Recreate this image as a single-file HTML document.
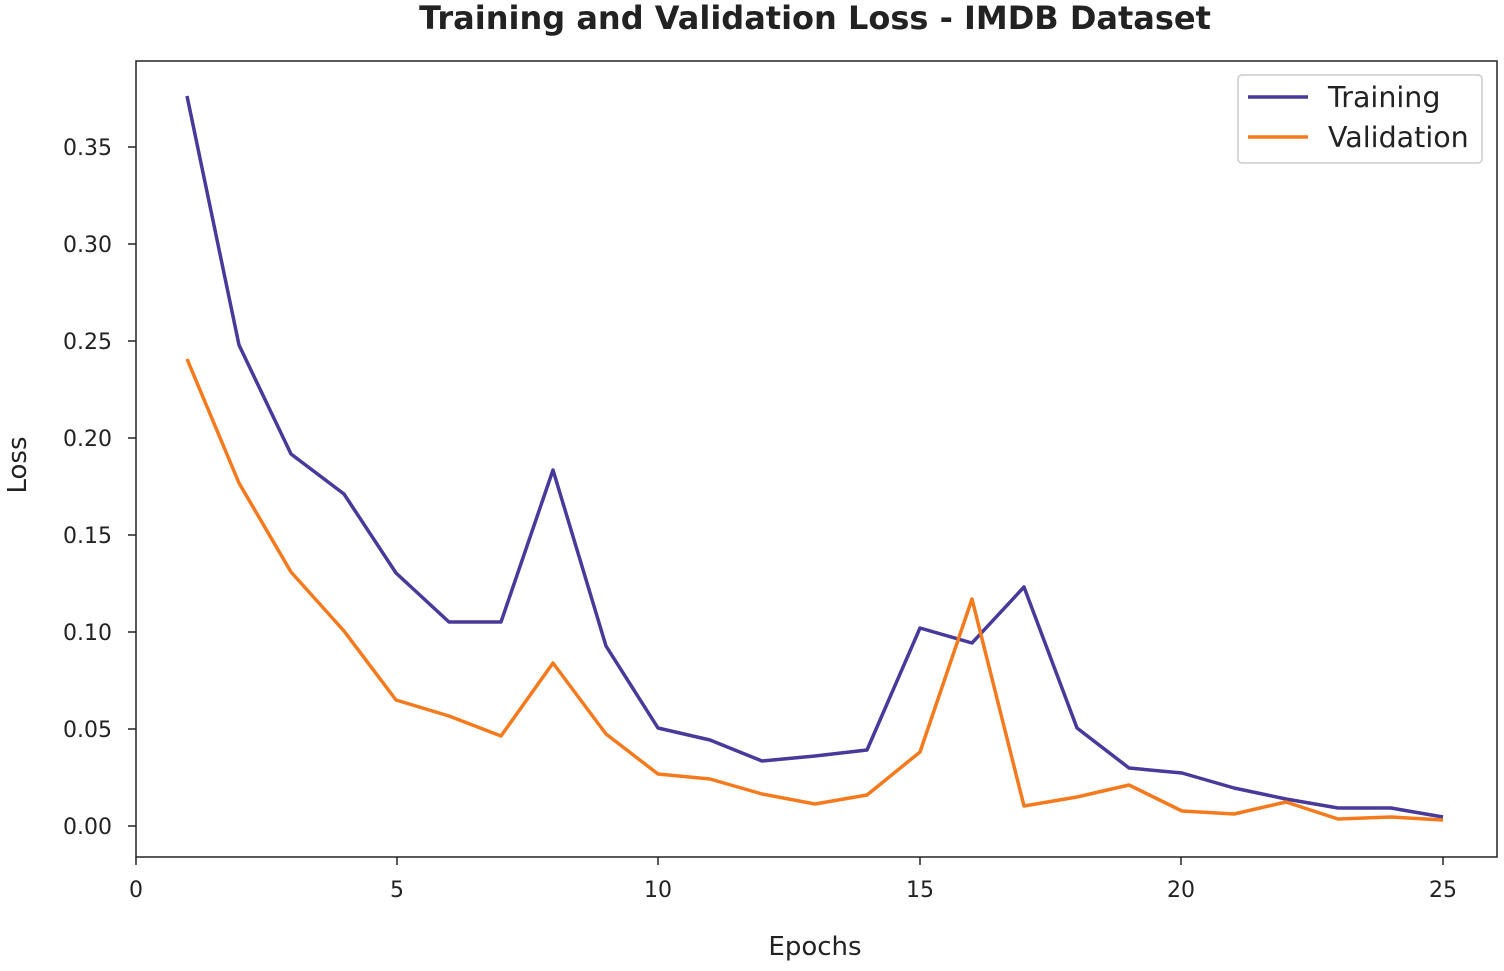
<!DOCTYPE html>
<html><head><style>
body{margin:0;background:#fff;}
svg text{font-family:"DejaVu Sans","Liberation Sans",sans-serif;fill:#222;}
</style></head><body>
<svg width="1504" height="966" xmlns="http://www.w3.org/2000/svg">
<rect width="1504" height="966" fill="#fff"/>
<text x="815" y="29" text-anchor="middle" font-size="32" font-weight="bold">Training and Validation Loss - IMDB Dataset</text>
<rect x="136" y="61" width="1361" height="796" fill="none" stroke="#222" stroke-width="1.5"/>
<g stroke="#222" stroke-width="1.5">
<line x1="136" y1="857" x2="136" y2="865"/><line x1="397" y1="857" x2="397" y2="865"/><line x1="658" y1="857" x2="658" y2="865"/><line x1="920" y1="857" x2="920" y2="865"/><line x1="1181" y1="857" x2="1181" y2="865"/><line x1="1443" y1="857" x2="1443" y2="865"/>
<line x1="128" y1="826" x2="136" y2="826"/><line x1="128" y1="729" x2="136" y2="729"/><line x1="128" y1="632" x2="136" y2="632"/><line x1="128" y1="535" x2="136" y2="535"/><line x1="128" y1="438" x2="136" y2="438"/><line x1="128" y1="341" x2="136" y2="341"/><line x1="128" y1="244" x2="136" y2="244"/><line x1="128" y1="147" x2="136" y2="147"/>
</g>
<g font-size="22" text-anchor="middle">
<text x="136" y="897">0</text><text x="397" y="897">5</text><text x="658" y="897">10</text><text x="920" y="897">15</text><text x="1181" y="897">20</text><text x="1443" y="897">25</text>
</g>
<g font-size="22" text-anchor="end">
<text x="112" y="834">0.00</text><text x="112" y="737">0.05</text><text x="112" y="640">0.10</text><text x="112" y="543">0.15</text><text x="112" y="446">0.20</text><text x="112" y="349">0.25</text><text x="112" y="252">0.30</text><text x="112" y="155">0.35</text>
</g>
<text x="815" y="955" text-anchor="middle" font-size="26">Epochs</text>
<text transform="translate(26,465) rotate(-90)" text-anchor="middle" font-size="26">Loss</text>
<polyline fill="none" stroke="#48399a" stroke-width="3.5" stroke-linejoin="round" points="187,96 239,345 291,454 344,494 396,573 449,622 501,622 553,470 606,646 658,728 710,740 762,761 815,756 867,750 920,628 972,643 1024,587 1077,728 1129,768 1182,773 1234,788 1286,799 1338,808 1391,808 1443,817"/>
<polyline fill="none" stroke="#f57a1d" stroke-width="3.5" stroke-linejoin="round" points="187,359 239,483 291,572 344,631 396,700 449,716 501,736 553,663 606,734 658,774 710,779 762,794 815,804 867,795 920,752 972,599 1024,806 1077,797 1129,785 1182,811 1234,814 1286,802 1338,819 1391,817 1443,820"/>
<rect x="1238" y="75" width="244" height="88" rx="4" fill="#fff" stroke="#ccc" stroke-width="1.5"/>
<line x1="1248" y1="97" x2="1308" y2="97" stroke="#48399a" stroke-width="3.5"/>
<line x1="1248" y1="137" x2="1308" y2="137" stroke="#f57a1d" stroke-width="3.5"/>
<text x="1328" y="107" font-size="28.5">Training</text>
<text x="1328" y="147" font-size="28.5">Validation</text>
</svg>
</body></html>
